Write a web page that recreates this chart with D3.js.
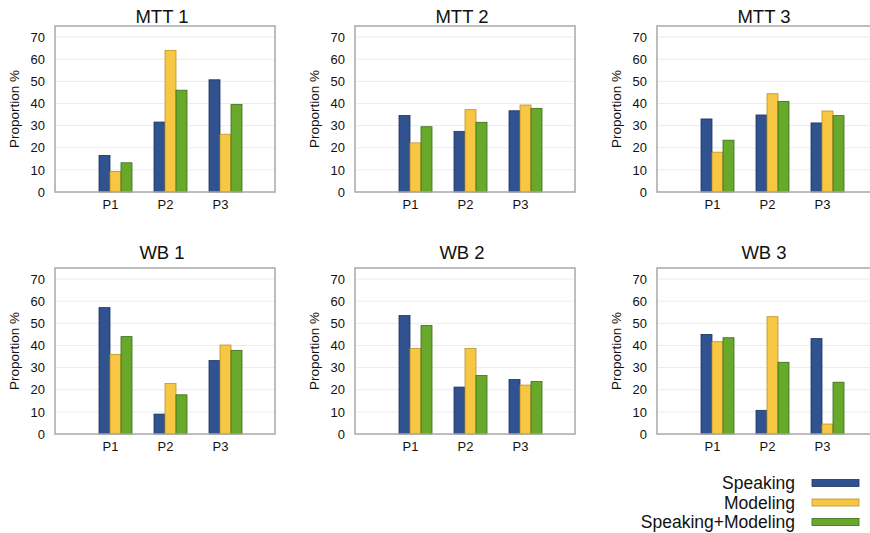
<!DOCTYPE html>
<html>
<head>
<meta charset="utf-8">
<script src="https://cdnjs.cloudflare.com/ajax/libs/d3/7.8.5/d3.min.js"></script>
<style>
  body { margin: 0; background: #fff; }
  svg { font-family: "Liberation Sans", Arial, sans-serif; }
</style>
</head>
<body>
<div id="chart"></div>
<script>
// data
var panels = ["MTT 1", "MTT 2", "MTT 3", "WB 1", "WB 2", "WB 3"];
var categories = ["P1", "P2", "P3"];
var series = ["Speaking", "Modeling", "Speaking+Modeling"];
var yTicks = [0, 10, 20, 30, 40, 50, 60, 70];

// values[panel][category] = [speaking, modeling, speaking+modeling]
var speaking = [
  [16.5, 31.6, 50.7],
  [34.6, 27.4, 36.7],
  [33.0, 34.8, 31.2],
  [57.1, 9.0, 33.2],
  [53.5, 21.2, 24.6],
  [45.0, 10.7, 43.1]
];
var modeling = [
  [9.3, 64.0, 26.1],
  [22.2, 37.2, 39.3],
  [18.0, 44.4, 36.6],
  [36.0, 22.8, 40.2],
  [38.7, 38.7, 22.1],
  [41.7, 53.0, 4.5]
];
var both = [
  [13.2, 46.0, 39.6],
  [29.5, 31.5, 37.8],
  [23.4, 40.9, 34.5],
  [44.0, 17.7, 37.8],
  [49.0, 26.4, 23.7],
  [43.5, 32.4, 23.4]
];

var colors = ["#30528f", "#f7c744", "#68a82a"];
var strokes = ["#1c3462", "#b8922c", "#3b6c18"];

var W = 870, H = 533;
var frameW = 220, frameH = 166;
var colX = [55, 355, 657];
var rowY = [26, 268];
var titleY = [23, 259];

var svg = d3.select("#chart").append("svg")
    .attr("width", W)
    .attr("height", H);

panels.forEach(function(name, p){
    var left = colX[p % 3],
        top = rowY[Math.floor(p / 3)];

    var g = svg.append("g").attr("transform", "translate(" + left + "," + top + ")");

    var y = d3.scaleLinear().domain([0, 75]).range([frameH, 0]);
    var x = d3.scalePoint().domain(categories).range([0, frameW]).padding(1);
    // an empty slot sits first in each group, like the original chart
    var x1 = d3.scaleBand().domain(["", ...series]).range([-22, 22]);

    g.append("rect")
        .attr("width", frameW)
        .attr("height", frameH)
        .attr("fill", "#fff");

    // gridlines
    g.selectAll(".grid").data(yTicks.slice(1)).enter()
        .append("line")
        .attr("x1", 1)
        .attr("x2", frameW - 1)
        .attr("y1", function(d){ return y(d) })
        .attr("y2", function(d){ return y(d) })
        .attr("stroke", "#ececec")
        .attr("stroke-width", 1);

    var vals = [speaking[p], modeling[p], both[p]];
    categories.forEach(function(c, ci){
        series.forEach(function(s, si){
            var v = vals[si][ci];
            g.append("rect")
                .attr("x", x(c) + x1(s))
                .attr("y", y(v))
                .attr("width", x1.bandwidth())
                .attr("height", frameH - y(v))
                .attr("fill", colors[si])
                .attr("stroke", strokes[si])
                .attr("stroke-width", 0.8);
        });
    });

    // frame
    g.append("rect")
        .attr("width", frameW)
        .attr("height", frameH)
        .attr("fill", "none")
        .attr("stroke", "#a8a8a8")
        .attr("stroke-width", 1.5);

    var yAxis = d3.axisLeft(y).tickValues(yTicks).tickSize(0).tickPadding(10);
    g.append("g").call(yAxis)
        .call(function(a){ a.select(".domain").remove() })
        .selectAll("text")
        .attr("font-size", 13)
        .attr("font-family", "Liberation Sans, Arial, sans-serif")
        .attr("fill", "#111");

    var xAxis = d3.axisBottom(x).tickSize(0).tickPadding(8);
    g.append("g").attr("transform", "translate(0," + frameH + ")").call(xAxis)
        .call(function(a){ a.select(".domain").remove() })
        .selectAll("text")
        .attr("font-size", 13)
        .attr("font-family", "Liberation Sans, Arial, sans-serif")
        .attr("fill", "#111");

    g.append("text")
        .attr("transform", "translate(-41," + (frameH / 2) + ") rotate(-90)")
        .attr("text-anchor", "middle")
        .attr("dy", "0.35em")
        .attr("font-size", 13.5)
        .attr("fill", "#111")
        .text("Proportion %");

    svg.append("text")
        .attr("x", left + frameW / 2 - 3)
        .attr("y", titleY[Math.floor(p / 3)])
        .attr("text-anchor", "middle")
        .attr("font-size", 18.5)
        .attr("fill", "#111")
        .text(name);
});

// legend
var legend = svg.append("g");
series.forEach(function(s, i){
    var cy = 483 + i * 19.5;
    legend.append("text")
        .attr("x", 795)
        .attr("y", cy + 6)
        .attr("text-anchor", "end")
        .attr("font-size", 17.5)
        .attr("fill", "#111")
        .text(s);
    legend.append("rect")
        .attr("x", 812)
        .attr("y", cy - 3.5)
        .attr("width", 47)
        .attr("height", 7)
        .attr("fill", colors[i])
        .attr("stroke", strokes[i])
        .attr("stroke-width", 0.8);
});
</script>
</body>
</html>
